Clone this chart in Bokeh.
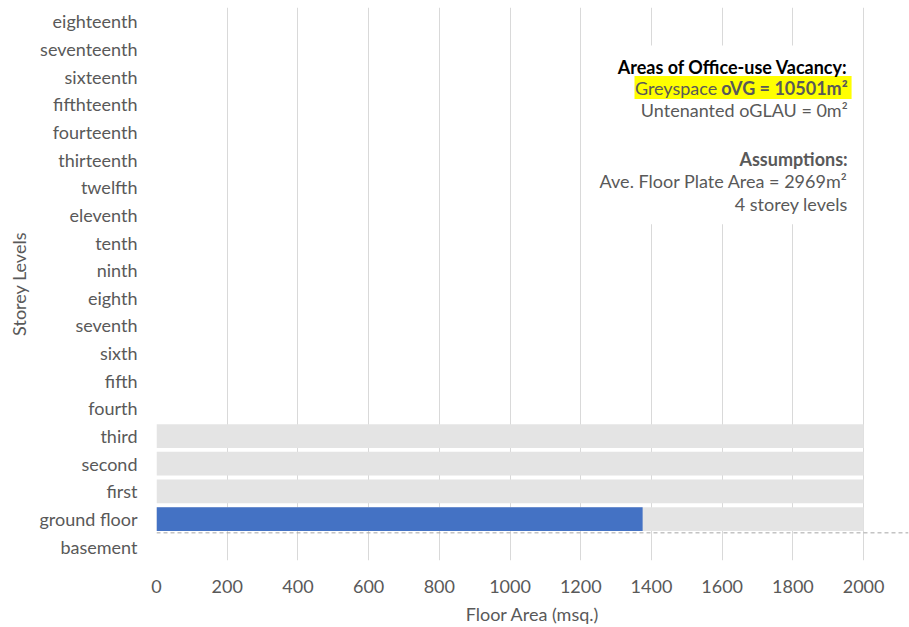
from bokeh.plotting import figure
from bokeh.models import FactorRange, Range1d, FixedTicker, Span
from bokeh.core.properties import value
from bokeh.embed import file_html
from bokeh.resources import INLINE

# ---- data ----
storeys = ["basement", "ground floor", "first", "second", "third", "fourth",
           "fifth", "sixth", "seventh", "eighth", "ninth", "tenth", "eleventh",
           "twelfth", "thirteenth", "fourteenth", "fifthteenth", "sixteenth",
           "seventeenth", "eighteenth"]
grey_storeys = ["ground floor", "first", "second", "third"]
grey_area = [2000, 2000, 2000, 2000]          # floor plate (clipped at axis max)
vacant_storeys = ["ground floor"]
vacant_area = [1375]
x_ticks = [0, 200, 400, 600, 800, 1000, 1200, 1400, 1600, 1800, 2000]

note_lines = ["Areas of Office-use Vacancy:", "Untenanted oGLAU = 0m\u00b2",
              "Ave. Floor Plate Area = 2969m\u00b2", "4 storey levels"]
note_bold = ["Assumptions:"]
greyspace_plain = "Greyspace"
greyspace_bold = "oVG = 10501m\u00b2"

FONT = "Lato"
TXT = "#595959"

p = figure(width=909, height=627,
           y_range=FactorRange(factors=storeys),
           x_range=Range1d(0, 2127),
           output_backend="svg", toolbar_location=None,
           min_border_left=156, min_border_right=1,
           min_border_top=7, min_border_bottom=64)
p.outline_line_color = None
p.background_fill_color = "white"

# bars
p.hbar(y=grey_storeys, left=0, right=grey_area, height=0.86,
       fill_color="#e4e4e4", line_color=None)
p.hbar(y=vacant_storeys, left=0, right=vacant_area, height=0.86,
       fill_color="#4472c4", line_color=None)

# ground level dashed separator (synthetic categorical coordinate = boundary)
p.add_layout(Span(location=1.0, dimension="width",
                  line_color="#a6a6a6", line_dash="4 3", line_width=1))

# text box background covering gridlines
p.quad(left=[1242], right=[1977], bottom=[12.16], top=[18.63],
       fill_color="white", line_color=None)
# highlight
p.quad(left=[1352], right=[1966], bottom=[16.69], top=[17.52],
       fill_color="#ffff00", line_color=None)

tx = 1955
common = dict(text_align="right", text_baseline="middle",
              text_font=value(FONT), text_font_size="18px")
p.text(x=[tx], y=[17.84], text=[note_lines[0]], text_color="#000000",
       text_font_style="bold", **common)
p.text(x=[tx], y=[17.10], text=[greyspace_bold], text_color=TXT,
       text_font_style="bold", **common)
p.text(x=[1586], y=[17.10], text=[greyspace_plain], text_color=TXT, **common)
p.text(x=[tx], y=[16.29], text=[note_lines[1]], text_color=TXT, **common)
p.text(x=[tx], y=[14.53], text=[note_bold[0]], text_color=TXT,
       text_font_style="bold", **common)
p.text(x=[tx, tx], y=[13.71, 12.88], text=note_lines[2:], text_color=TXT, **common)

# axes
p.xaxis.ticker = FixedTicker(ticks=x_ticks)
p.xaxis.axis_label = "Floor Area (msq.)"
p.yaxis.axis_label = "Storey Levels"
for ax in (p.xaxis[0], p.yaxis[0]):
    ax.axis_line_color = None
    ax.major_tick_line_color = None
    ax.minor_tick_line_color = None
    ax.major_tick_out = 0
    ax.major_tick_in = 0
    ax.major_label_text_font = FONT
    ax.major_label_text_font_size = "18px"
    ax.major_label_text_color = TXT
    ax.axis_label_text_font = FONT
    ax.axis_label_text_font_size = "18px"
    ax.axis_label_text_font_style = "normal"
    ax.axis_label_text_color = TXT
p.xaxis.major_label_standoff = 19
p.xaxis.axis_label_standoff = 7
p.yaxis.major_label_standoff = 19
p.yaxis.axis_label_standoff = 6

p.xgrid.grid_line_color = "#d9d9d9"
p.ygrid.grid_line_color = None

open("out.html", "w").write(file_html(p, INLINE))
